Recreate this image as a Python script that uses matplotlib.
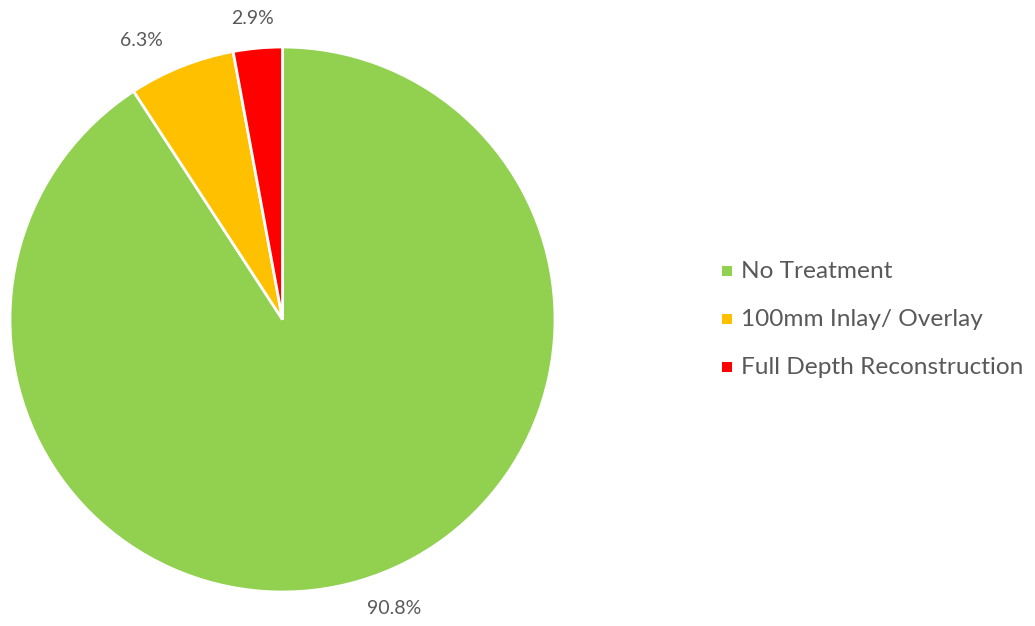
import matplotlib
matplotlib.use("Agg")
import matplotlib.pyplot as plt
from matplotlib.patches import Rectangle

categories = ["No Treatment", "100mm Inlay/ Overlay", "Full Depth Reconstruction"]
shares = [90.8, 6.3, 2.9]
colors = ["#92D050", "#FFC000", "#FF0000"]
text_color = "#595959"

W, H = 1035, 626
fig = plt.figure(figsize=(W / 100, H / 100), dpi=100)
ax = fig.add_axes([0, 0, 1, 1])

# pixel-like coordinates with y growing downward, so angles are mirrored:
# start at -90 and go counterclockwise in data space = clockwise from top on screen
cx, cy, r = 282.5, 319.5, 272.5
wedges, _ = ax.pie(
    shares, colors=colors, startangle=-90, counterclock=True,
    center=(cx, cy), radius=r, frame=True,
    wedgeprops=dict(edgecolor="white", linewidth=2),
)
ax.set_xlim(0, W)
ax.set_ylim(H, 0)
ax.set_aspect("equal")
ax.axis("off")

# percentage labels just outside each wedge
label_pos = [(394, 608), (141, 40), (253, 18)]
for val, (x, y) in zip(shares, label_pos):
    ax.text(x, y, f"{val:.1f}%", ha="center", va="center",
            fontsize=14, color=text_color, family="Lato")

# legend
for i, (name, col) in enumerate(zip(categories, colors)):
    y = 271 + 48 * i
    ax.add_patch(Rectangle((722, y - 5), 10, 10, facecolor=col, edgecolor="none"))
    ax.text(741, y, name, ha="left", va="center", fontsize=17.6,
            color=text_color, family="Lato")

fig.savefig("out.png", dpi=100)
